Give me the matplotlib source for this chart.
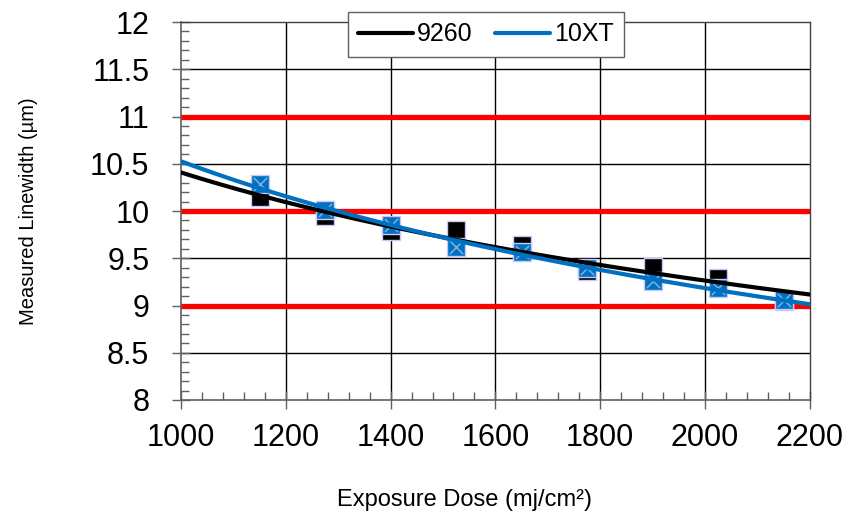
import numpy as np
import matplotlib.pyplot as plt
from matplotlib.ticker import MultipleLocator

plt.rcParams['font.family'] = ['Liberation Sans', 'DejaVu Sans']

# data
dose = [1150, 1275, 1400, 1525, 1650, 1775, 1900, 2025, 2150]
lw_9260 = [10.15, 9.95, 9.79, 9.80, 9.64, 9.37, 9.41, 9.29, 9.05]
lw_10xt = [10.29, 10.01, 9.85, 9.62, 9.57, 9.40, 9.26, 9.19, 9.06]
spec_lines = [9, 10, 11]


def power_fit(x, y, xs):
    # Excel-style power trendline
    b, a = np.polyfit(np.log(x), np.log(y), 1)
    return np.exp(a) * xs ** b


fig = plt.figure(figsize=(8.48, 5.18), dpi=100)
ax = fig.add_axes([0.2134, 0.2278, 0.7416, 0.7297])

ax.set_xlim(1000, 2200)
ax.set_ylim(8, 12)

# grid
for xv in range(1200, 2200, 200):
    ax.axvline(xv, color='black', lw=1, zorder=1)
for yv in [8.5, 9.5, 10.5, 11.5]:
    ax.axhline(yv, color='black', lw=1, zorder=1)
for yv in spec_lines:
    ax.axhline(yv, color='#ff0000', lw=3.8, zorder=2)

xs = np.linspace(1000, 2200, 200)

# markers
ax.scatter(dose, lw_9260, marker='s', s=160, color='black',
           edgecolors='#c8c8ff', linewidths=1, zorder=3)
ax.scatter(dose, lw_10xt, marker='s', s=160, color='#0070c0',
           edgecolors='#c8c8ff', linewidths=1, zorder=4)
ax.scatter(dose, lw_10xt, marker='x', s=90, color='#7fb2e0',
           linewidths=1.1, zorder=5)

# trendlines
ax.plot(xs, power_fit(dose, lw_9260, xs), color='black', lw=3, zorder=6,
        label='9260', solid_capstyle='round')
ax.plot(xs, power_fit(dose, lw_10xt, xs), color='#0070c0', lw=3, zorder=7,
        label='10XT', solid_capstyle='round')

ax.xaxis.set_major_locator(MultipleLocator(200))
ax.xaxis.set_minor_locator(MultipleLocator(40))
ax.yaxis.set_minor_locator(MultipleLocator(0.1))
ax.set_yticks(np.arange(8, 12.01, 0.5))
ax.set_yticklabels(['8', '8.5', '9', '9.5', '10', '10.5', '11', '11.5', '12'])

ax.tick_params(axis='both', which='major', direction='inout', length=13.5,
               width=1, color='#606060', labelsize=22)
ax.tick_params(axis='both', which='minor', direction='in', length=5.5,
               width=1, color='#606060')
ax.tick_params(axis='x', which='major', pad=10)
ax.tick_params(axis='y', which='major', pad=16)

for side in ['left', 'bottom']:
    ax.spines[side].set_color('#606060')
    ax.spines[side].set_linewidth(1.2)
for side in ['top', 'right']:
    ax.spines[side].set_color('#404040')
    ax.spines[side].set_linewidth(1)

ax.set_xlabel('Exposure Dose (mj/cm²)', fontsize=17)
ax.set_ylabel('Measured Linewidth (µm)', fontsize=14.5)
ax.xaxis.set_label_coords(0.451, -0.265)
ax.yaxis.set_label_coords(-0.243, 0.5)
ax.xaxis.label.set_va('center')
ax.yaxis.label.set_va('center')

leg = ax.legend(loc='upper center', bbox_to_anchor=(0.485, 1.027), ncol=2,
                fontsize=18, frameon=True, fancybox=False, edgecolor='#606060',
                framealpha=1, handlelength=2.2, columnspacing=0.9,
                borderpad=0.42, handletextpad=0.16, borderaxespad=0)
leg.get_frame().set_linewidth(1)
leg.set_zorder(10)

fig.savefig('out.png', dpi=100)
